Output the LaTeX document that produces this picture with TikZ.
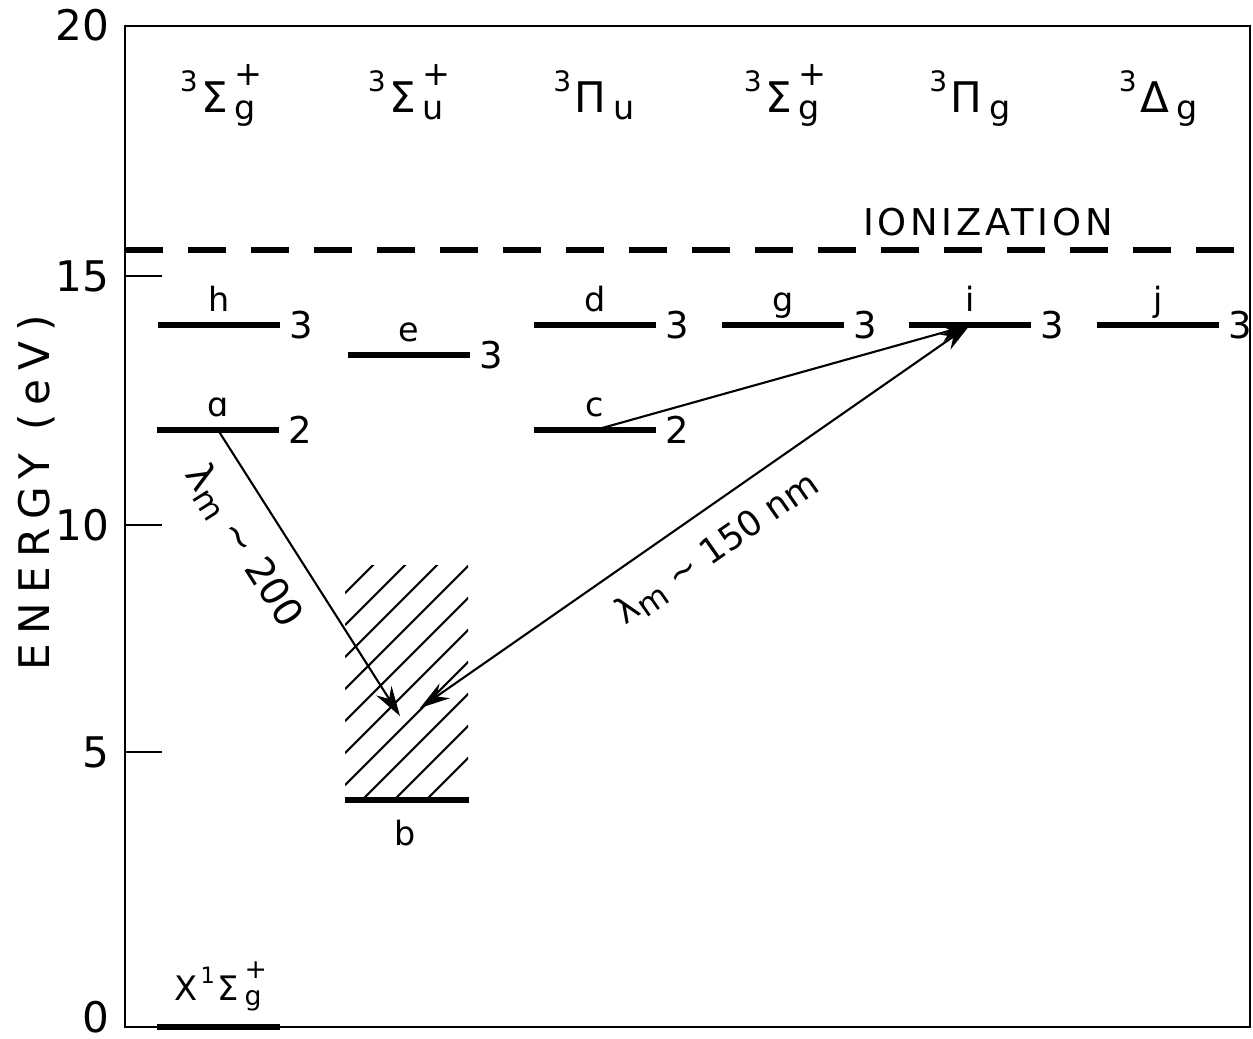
\documentclass[tikz,border=0pt]{standalone}
\usepackage{fontspec}
\setmainfont{DejaVu Sans}
\newfontfamily\spaced[LetterSpace=22]{DejaVu Sans}
\newfontfamily\lettered[LetterSpace=10]{DejaVu Sans}
\usepackage{tikz}
\usetikzlibrary{arrows.meta,positioning,calc}

% term symbol: ^{mult}Letter^{sign}_{parity}
\newcommand{\termlbl}[4]{\raisebox{0.21cm}{\fontsize{8}{8}\selectfont #1}\hspace{1pt}{\fontsize{12}{12}\selectfont #2}\hspace{2pt}%
  \makebox[0pt][l]{\raisebox{0.27cm}{\fontsize{9.5}{9.5}\selectfont #3}}\raisebox{-0.07cm}{\fontsize{9.5}{9.5}\selectfont #4}}

\begin{document}
\begin{tikzpicture}[>={Stealth[length=3mm,width=1.8mm]},
  level/.style={line width=1.6pt},
  lvlname/.style={anchor=base,inner sep=0pt,font=\fontsize{9.5}{10}\selectfont},
  mult/.style={inner sep=0pt,font=\fontsize{10.5}{11}\selectfont},
  ticklbl/.style={anchor=east,inner sep=0pt,font=\fontsize{12}{12}\selectfont},
  trans/.style={semithick},
  wl/.style={sloped,below=3pt,font=\fontsize{11}{11}\selectfont}]
  \useasboundingbox (0,0) rectangle (12.53,10.38);
  % frame and energy axis
  \draw[semithick] (1.25,0.11) rectangle (12.50,10.12);
  \foreach \y/\t in {10.13/20,7.62/15,5.13/10,2.86/5,0.21/0}
    \node[ticklbl] (t\t) at (1.10,\y) {\t};
  \foreach \y in {7.62,5.13,2.86}
    \draw[semithick] (1.25,\y) -- ++(0.37,0);
  \node[rotate=90,font=\fontsize{12}{12}\selectfont] (ylab) at (0.36,5.45) {\spaced ENERGY (eV)};
  % symmetry columns
  \foreach \x/\t [count=\k] in {2.18/{\termlbl{3}{Σ}{+}{g}},4.06/{\termlbl{3}{Σ}{+}{u}},
      5.94/{\termlbl{3}{Π}{}{u}},7.82/{\termlbl{3}{Σ}{+}{g}},
      9.70/{\termlbl{3}{Π}{}{g}},11.58/{\termlbl{3}{Δ}{}{g}}}
    \node[anchor=base,inner sep=0pt] (term\k) at (\x,9.26) {\t};
  % ionization limit
  \draw[line width=1.6pt,dash pattern=on 0.38cm off 0.25cm] (1.25,7.88) -- (12.50,7.88);
  \node[font=\fontsize{10.5}{11}\selectfont] (ion) at (9.88,8.16) {\lettered IONIZATION};
  % excited levels
  \foreach \n/\x/\y/\l/\m in {h/2.19/7.13/h/3,e/4.09/6.83/e/3,d/5.95/7.13/d/3,
      g/7.83/7.13/g/3,i/9.70/7.13/i/3,j/11.58/7.13/j/3,a/2.18/6.08/ɑ/2,c/5.95/6.08/c/2}{
    \coordinate (\n) at (\x,\y);
    \draw[level] (\x-0.61,\y) -- (\x+0.61,\y);
    \node[lvlname] (\n-l) at (\x,\y+0.14) {\l};
    \node[mult] (\n-m) at (\x+0.82,\y) {\m};
  }
  % b continuum
  \begin{scope}
    \clip (3.45,2.38) rectangle (4.68,4.73);
    \foreach \k in {0,...,9}
      \draw[semithick] (3.45,4.45-0.32*\k) -- ++(3,3);
  \end{scope}
  \draw[level] (3.45,2.38) -- (4.69,2.38);
  \node[lvlname] (b-l) at (4.05,1.93) {b};
  % ground state
  \draw[level] (1.57,0.11) -- (2.80,0.11);
  \node[anchor=base west,inner sep=0pt] (X) at (1.74,0.38)
    {\scalebox{0.8}{\fontsize{12}{12}\selectfont X\hspace{1pt}\termlbl{1}{Σ}{+}{g}}};
  % transitions
  \coordinate (b1) at (4.00,3.22);
  \coordinate (b2) at (4.20,3.30);
  \draw[trans,->] (a) -- node[wl,pos=0.33] {λ\raisebox{-0.3ex}{\fontsize{9}{9}\selectfont m} ∼ 200} (b1);
  \draw[trans,<->] (b2) -- node[wl,pos=0.5,font=\fontsize{10}{10}\selectfont] {λ\raisebox{-0.3ex}{\fontsize{9}{9}\selectfont m} ∼ 150 nm} (i);
  \draw[trans,->] (c) -- (i);
\end{tikzpicture}
\end{document}
